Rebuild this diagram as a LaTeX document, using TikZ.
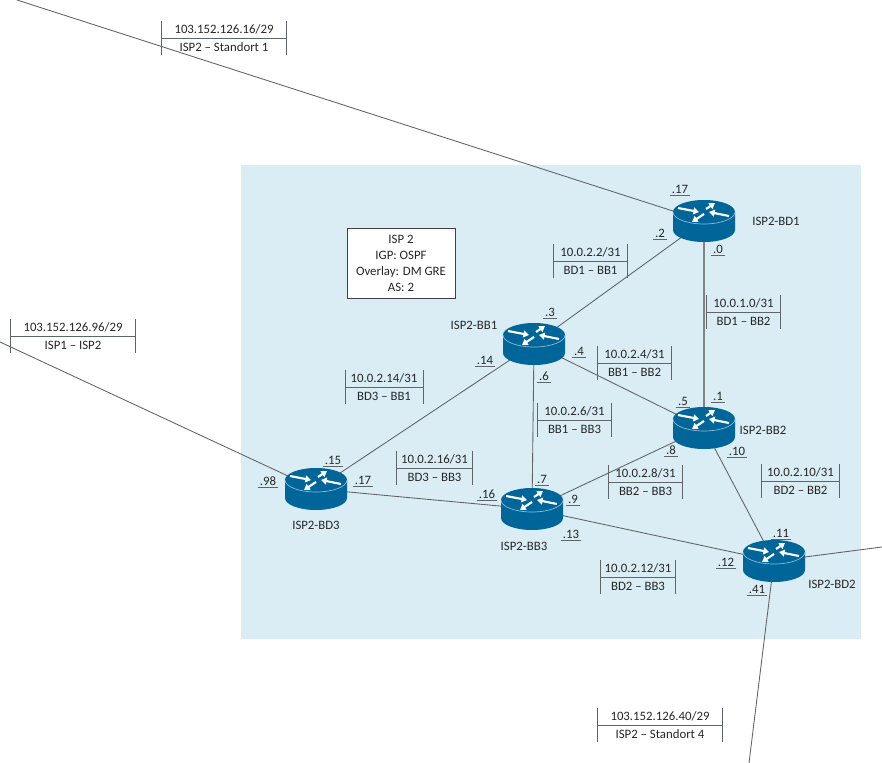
\documentclass[tikz,border=0pt]{standalone}
\usepackage{fontspec}
\setmainfont{Carlito}
\usetikzlibrary{arrows.meta,shapes.geometric}

\definecolor{areablue}{HTML}{DAEDF4}
\definecolor{rtrblue}{HTML}{00669A}
\definecolor{rtredge}{HTML}{8FBDD6}
\definecolor{linkgray}{HTML}{5F6468}

\begin{document}
\begin{tikzpicture}[x=.75pt,y=-.75pt]
    \fontsize{9.6}{12}\selectfont
    \tikzstyle{link}=[draw=linkgray, line width=.65pt]
    \tikzstyle{rtrnode}=[ellipse, minimum width=46.5pt, minimum height=30pt, inner sep=0pt]
    \tikzstyle{rtrarrow}=[white, line width=1.6pt, -{Triangle[length=4.2pt,width=5.2pt]}]
    \tikzstyle{rtrname}=[inner sep=0pt, text=black!85]
    \tikzstyle{subnet}=[align=center, inner sep=0pt, minimum height=25.5pt, text=black!85,
        append after command={
            (\tikzlastnode.north west) edge[link] (\tikzlastnode.south west)
            (\tikzlastnode.north east) edge[link] (\tikzlastnode.south east)
            (\tikzlastnode.west) edge[link] (\tikzlastnode.east)}]
    \tikzstyle{iface}=[inner xsep=1.4pt, inner ysep=0pt, minimum height=9.5pt, text=black!85,
        append after command={
            (\tikzlastnode.south west) edge[link] (\tikzlastnode.south east)}]
    \tikzset{router/.pic={
        \begin{scope}[x=.75pt,y=.75pt]
            \fill[rtrblue] (-31,9) -- (-31,-9) arc[start angle=180,end angle=360,x radius=31,y radius=12]
                -- (31,9) arc[start angle=0,end angle=180,x radius=31,y radius=12] -- cycle;
            \draw[rtredge, line width=.5pt] (-31,9) arc[start angle=180,end angle=360,x radius=31,y radius=12];
            \draw[rtrarrow] (-26,13) -- (-5,9);
            \draw[rtrarrow] (2,12) -- (11,18);
            \draw[rtrarrow] (25,5) -- (5,9);
            \draw[rtrarrow] (0,7) -- (-12,-1);
        \end{scope}}}

    \useasboundingbox (0,0) rectangle (882,763);

    % Area of ISP 2
    \fill[areablue] (241,165) rectangle (861,639);

    % Router positions
    \node [rtrnode] (bd1) at (704,221) {};
    \node [rtrnode] (bb1) at (534,344) {};
    \node [rtrnode] (bb2) at (704,428) {};
    \node [rtrnode] (bb3) at (532,509) {};
    \node [rtrnode] (bd3) at (316,489) {};
    \node [rtrnode] (bd2) at (774,561) {};

    % Free ends of the outside links
    \coordinate (standort1) at (17,0);
    \coordinate (isp1) at (0,342);
    \coordinate (east) at (882,547);
    \coordinate (standort4) at (749,763);

    % Links
    \draw [link] (standort1) -- (bd1.center);
    \draw [link] (isp1) -- (bd3.center);
    \draw [link] (east) -- (bd2.center);
    \draw [link] (standort4) -- (bd2.center);
    \draw [link] (bd1.center) -- (bb1.center);
    \draw [link,line width=1pt,draw=linkgray!80] (bd1.center) -- (bb2.center);
    \draw [link] (bb1.center) -- (bb2.center);
    \draw [link] (bb1.center) -- (bb3.center);
    \draw [link] (bb1.center) -- (bd3.center);
    \draw [link] (bd3.center) -- (bb3.center);
    \draw [link] (bb3.center) -- (bb2.center);
    \draw [link] (bb3.center) -- (bd2.center);
    \draw [link] (bb2.center) -- (bd2.center);

    % Routers
    \pic at (bd1) {router};
    \pic at (bb1) {router};
    \pic at (bb2) {router};
    \pic at (bb3) {router};
    \pic at (bd3) {router};
    \pic at (bd2) {router};

    % Router names
    \node [rtrname] (namebd1) at (776,221) {ISP2-BD1};
    \node [rtrname] (namebb1) at (474,325) {ISP2-BB1};
    \node [rtrname] (namebb2) at (763,430) {ISP2-BB2};
    \node [rtrname] (namebb3) at (524,546) {ISP2-BB3};
    \node [rtrname] (namebd3) at (316,525) {ISP2-BD3};
    \node [rtrname] (namebd2) at (832,584) {ISP2-BD2};

    % Info box
    \node [draw=black!75, fill=white, align=center, minimum width=81pt, minimum height=52.5pt,
           inner sep=0pt, text=black!85] (info) at (401,263)
        {ISP 2\\IGP: OSPF\\Overlay: DM GRE\\AS: 2};

    % Subnets
    \node [subnet,minimum width=93pt] (netstandort1) at (224,38) {103.152.126.16/29\\[1.5pt]ISP2 -- Standort 1};
    \node [subnet,minimum width=93pt] (netisp) at (73,336) {103.152.126.96/29\\[1.5pt]ISP1 -- ISP2};
    \node [subnet,minimum width=93pt] (netstandort4) at (660,725) {103.152.126.40/29\\[1.5pt]ISP2 -- Standort 4};
    \node [subnet,minimum width=55pt] (netbd1bb1) at (590.5,261) {10.0.2.2/31\\[1.5pt]BD1 -- BB1};
    \node [subnet,minimum width=55pt] (netbd1bb2) at (743.5,312) {10.0.1.0/31\\[1.5pt]BD1 -- BB2};
    \node [subnet,minimum width=55pt] (netbb1bb2) at (634.5,363) {10.0.2.4/31\\[1.5pt]BB1 -- BB2};
    \node [subnet,minimum width=55pt] (netbb1bb3) at (574.5,420) {10.0.2.6/31\\[1.5pt]BB1 -- BB3};
    \node [subnet,minimum width=58pt] (netbd3bb1) at (384,387) {10.0.2.14/31\\[1.5pt]BD3 -- BB1};
    \node [subnet,minimum width=56pt] (netbd3bb3) at (434.5,468) {10.0.2.16/31\\[1.5pt]BD3 -- BB3};
    \node [subnet,minimum width=55pt] (netbb2bb3) at (645.5,482) {10.0.2.8/31\\[1.5pt]BB2 -- BB3};
    \node [subnet,minimum width=58pt] (netbd2bb2) at (800.5,481) {10.0.2.10/31\\[1.5pt]BD2 -- BB2};
    \node [subnet,minimum width=56pt] (netbd2bb3) at (638,577) {10.0.2.12/31\\[1.5pt]BD2 -- BB3};

    % Interface addresses
    \node [iface] (ifbd1a) at (680,189) {.17};
    \node [iface] (ifbd1b) at (660,233) {.2};
    \node [iface] (ifbd1c) at (718,249) {.0};
    \node [iface] (ifbb1a) at (550,312) {.3};
    \node [iface] (ifbb1b) at (579,351) {.4};
    \node [iface] (ifbb1c) at (485,360) {.14};
    \node [iface] (ifbb1d) at (544,376) {.6};
    \node [iface] (ifbb2a) at (683,401) {.5};
    \node [iface] (ifbb2b) at (718,396) {.1};
    \node [iface] (ifbb2c) at (671,450) {.8};
    \node [iface] (ifbb2d) at (737,451) {.10};
    \node [iface] (ifbd3a) at (333,460) {.15};
    \node [iface] (ifbd3b) at (363,480) {.17};
    \node [iface] (ifbd3c) at (268,481) {.98};
    \node [iface] (ifbb3a) at (487,494) {.16};
    \node [iface] (ifbb3b) at (542,479) {.7};
    \node [iface] (ifbb3c) at (573,499) {.9};
    \node [iface] (ifbb3d) at (571,534) {.13};
    \node [iface] (ifbd2a) at (781,533) {.11};
    \node [iface] (ifbd2b) at (726,562) {.12};
    \node [iface] (ifbd2c) at (757,589) {.41};
\end{tikzpicture}
\end{document}
